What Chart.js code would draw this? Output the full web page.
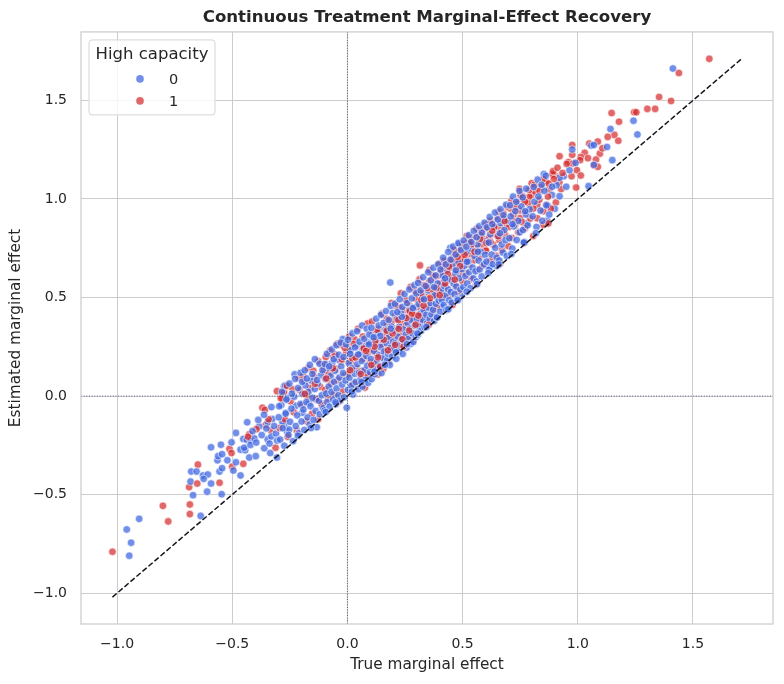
<!DOCTYPE html>
<html>
<head>
<meta charset="utf-8">
<script src="https://cdn.jsdelivr.net/npm/chart.js@4.4.1/dist/chart.umd.min.js"></script>
<style>
  html, body { margin: 0; padding: 0; background: #fff; }
  #wrap { width: 784px; height: 684px; }
</style>
</head>
<body>
<div id="wrap"><canvas id="myChart" width="784" height="684"></canvas></div>
<script>
// ---- data: [true effect, estimated effect] ----
const groupLabels = ['0', '1'];
const groupColors = ['rgba(65,105,225,0.75)', 'rgba(214,39,40,0.7)'];
const tickValues = [-1.0, -0.5, 0.0, 0.5, 1.0, 1.5];

// high capacity = 0, sparse tails / outliers
const cap0Sparse = [
  [-0.947,-0.81],[-0.939,-0.744],[-0.958,-0.677],[-0.904,-0.623],[-0.637,-0.608],[-0.67,-0.503],[-0.681,-0.434],
  [-0.609,-0.485],[-0.592,-0.444],[-0.546,-0.498],[-0.678,-0.383],[-0.655,-0.383],[-0.627,-0.403],[-0.606,-0.398],
  [-0.624,-0.42],[-0.555,-0.383],[-0.544,-0.366],[-0.495,-0.378],[-0.464,-0.403],[-0.564,-0.326],[-0.561,-0.305],
  [-0.544,-0.295],[-0.592,-0.26],[-0.549,-0.247],[-0.503,-0.235],[-0.521,-0.326],[-0.484,-0.336],[-0.484,-0.187],
  [-0.435,-0.133],[-0.452,-0.218],[-0.437,-0.222],[-0.42,-0.225],[-0.404,-0.215],[-0.464,-0.272],[-0.444,-0.275],
  [-0.426,-0.312],[-0.398,-0.305],[-0.335,-0.289],[-0.306,-0.312],[-0.383,-0.154],[-0.346,-0.22],[-0.33,-0.205],
  [-0.31,-0.19],[-0.003,-0.059],[-0.33,-0.056],[-0.275,0.049],[0.186,0.576],[-0.263,-0.177],[-0.273,-0.144],
  [-0.326,-0.117],[-0.346,-0.133],[-0.282,-0.133],[-0.253,-0.17],[-0.268,-0.085],[-0.225,-0.05],[-0.196,-0.085],
  [-0.167,-0.035],[-0.138,-0.017],[-0.11,-0.05],
  [1.413,1.662],[1.242,1.397],[1.259,1.327],[1.142,1.355],[1.15,1.197],[1.127,1.264],[1.059,1.271],[1.07,1.274],
  [0.976,1.251],[0.99,1.183],[1.07,1.173],[0.964,1.146],[0.939,1.115],[0.921,1.108],[0.95,1.062],[1.047,1.065],
  [0.921,1.014],[0.853,1.126],[0.908,1.07],[0.87,0.965],[0.888,1.02],[0.868,0.89],[0.9,0.95],[0.781,0.876],
  [0.649,0.66],[0.618,0.653],[0.446,0.751],[0.485,0.771],[0.495,0.508],[0.409,0.454],[0.026,0.066],[-0.02,0.289],
  [-0.229,0.11],[-0.27,0.053]
];

// high capacity = 0, dense band (lower and middle part)
const cap0Dense = [
  [-0.448,-0.262],[-0.421,-0.248],[-0.412,-0.178],[-0.396,-0.236],[-0.387,-0.121],[-0.372,-0.198],[-0.361,-0.265],
  [-0.352,-0.164],[-0.338,-0.241],[-0.318,-0.152],[-0.305,-0.226],[-0.362,-0.095],
  [-0.298,-0.108],[-0.292,-0.221],[-0.287,-0.046],[-0.281,-0.163],[-0.274,-0.252],[-0.268,-0.089],[-0.262,-0.012],
  [-0.256,-0.197],[-0.249,-0.131],[-0.243,-0.064],[-0.236,-0.229],[-0.231,-0.003],[-0.224,-0.152],[-0.218,-0.098],
  [-0.211,-0.189],[-0.204,-0.041],
  [-0.199,-0.129],[-0.195,0.012],[-0.191,-0.068],[-0.187,-0.172],[-0.182,0.054],[-0.178,-0.031],[-0.173,-0.108],
  [-0.169,0.021],[-0.164,-0.145],[-0.16,-0.052],[-0.156,0.078],[-0.151,-0.009],[-0.147,-0.121],[-0.142,0.036],
  [-0.138,-0.076],[-0.133,-0.158],[-0.129,0.062],[-0.124,-0.024],[-0.12,-0.092],[-0.115,0.105],[-0.111,0.004],
  [-0.104,-0.061],
  [-0.099,-0.073],[-0.096,0.086],[-0.092,0.013],[-0.088,-0.031],[-0.085,0.142],[-0.081,0.048],[-0.077,-0.054],
  [-0.073,0.101],[-0.069,0.021],[-0.066,0.168],[-0.062,-0.018],[-0.058,0.072],[-0.054,0.128],[-0.05,-0.041],
  [-0.047,0.039],[-0.043,0.186],[-0.039,0.004],[-0.035,0.094],[-0.031,-0.022],[-0.027,0.151],[-0.023,0.058],
  [-0.019,0.117],[-0.014,-0.006],[-0.008,0.079],
  [0.002,0.031],[0.006,0.168],[0.009,0.094],[0.013,0.232],[0.017,0.052],[0.021,0.141],[0.024,0.008],[0.028,0.199],
  [0.032,0.113],[0.036,0.071],[0.039,0.257],[0.043,0.162],[0.047,0.035],[0.051,0.118],[0.055,0.214],[0.058,0.087],
  [0.062,0.178],[0.066,0.048],[0.07,0.246],[0.074,0.131],[0.078,0.082],[0.082,0.203],[0.086,0.154],[0.09,0.067],
  [0.094,0.271],[0.098,0.121],
  [0.102,0.188],[0.105,0.086],[0.109,0.301],[0.112,0.142],[0.116,0.228],[0.119,0.111],[0.123,0.264],[0.127,0.171],
  [0.13,0.138],[0.134,0.321],[0.137,0.206],[0.141,0.152],[0.144,0.249],[0.148,0.117],[0.152,0.286],[0.155,0.192],
  [0.159,0.226],[0.162,0.161],[0.166,0.337],[0.17,0.268],[0.173,0.183],[0.177,0.214],[0.18,0.299],[0.184,0.158],
  [0.188,0.246],[0.191,0.353],[0.195,0.201],[0.198,0.276],
  [0.201,0.236],[0.205,0.331],[0.208,0.268],[0.212,0.189],[0.215,0.391],[0.219,0.301],[0.222,0.226],[0.226,0.352],
  [0.229,0.261],[0.233,0.419],[0.236,0.288],[0.24,0.214],[0.243,0.338],[0.247,0.271],[0.25,0.401],[0.254,0.312],
  [0.257,0.246],[0.261,0.371],[0.264,0.289],[0.268,0.436],[0.271,0.342],[0.275,0.265],[0.279,0.386],[0.282,0.318],
  [0.286,0.274],[0.289,0.448],[0.293,0.357],[0.297,0.299],
  [0.302,0.391],[0.306,0.311],[0.309,0.466],[0.313,0.352],[0.317,0.418],[0.32,0.331],[0.324,0.508],[0.328,0.386],
  [0.331,0.437],[0.335,0.349],[0.339,0.489],[0.342,0.412],[0.346,0.369],[0.35,0.536],[0.354,0.448],[0.357,0.391],
  [0.361,0.472],[0.365,0.414],[0.369,0.559],[0.372,0.438],[0.376,0.381],[0.38,0.511],[0.384,0.468],[0.388,0.402],
  [0.392,0.571],[0.397,0.484],
  [0.402,0.428],[0.406,0.536],[0.41,0.488],[0.414,0.612],[0.418,0.462],[0.421,0.558],[0.425,0.511],[0.429,0.437],
  [0.433,0.639],[0.437,0.542],[0.441,0.486],[0.445,0.592],[0.449,0.528],[0.453,0.474],[0.457,0.668],[0.461,0.571],
  [0.465,0.517],[0.469,0.621],[0.473,0.556],[0.477,0.492],[0.481,0.682],[0.486,0.598],[0.491,0.541],[0.496,0.644],
  [0.503,0.553],[0.507,0.661],[0.512,0.609],[0.516,0.728],[0.52,0.571],[0.525,0.682],[0.529,0.628],[0.534,0.547],
  [0.538,0.747],[0.543,0.652],[0.547,0.598],[0.552,0.711],[0.556,0.633],[0.561,0.581],[0.565,0.769],[0.57,0.688],
  [0.574,0.642],[0.579,0.731],[0.583,0.607],[0.588,0.792],[0.593,0.668],[0.598,0.717],
  [0.604,0.682],[0.609,0.778],[0.615,0.641],[0.62,0.821],[0.626,0.718],[0.631,0.669],[0.637,0.856],[0.642,0.752],
  [0.648,0.702],[0.653,0.811],[0.659,0.688],[0.664,0.878],[0.67,0.769],[0.675,0.728],[0.681,0.842],[0.686,0.791],
  [0.692,0.711],[0.697,0.889],
  [0.703,0.801],[0.709,0.912],[0.716,0.748],[0.722,0.861],[0.729,0.938],[0.735,0.792],[0.742,0.889],[0.748,0.831],
  [0.755,0.962],[0.762,0.842],[0.768,0.781],[0.775,0.921],[0.782,0.866],[0.791,0.948],
  [0.804,0.912],[0.812,0.986],[0.821,0.858],[0.829,1.012],[0.838,0.941],[0.846,0.889],[0.855,1.041],[0.864,0.968],
  [0.876,0.921],[0.889,1.062],
  [-0.215,-0.201],[-0.158,-0.162],[-0.094,-0.081],[-0.052,-0.032],[0.019,0.022],[0.061,0.071],[0.118,0.124],
  [0.163,0.158],[0.211,0.222],[0.258,0.263],[0.304,0.318],[0.343,0.351],[0.389,0.398],[0.438,0.441],[0.479,0.486],
  [0.518,0.529],[0.563,0.568],[0.611,0.624],[0.657,0.668],[0.712,0.721],[0.766,0.779],[0.818,0.826],
  [0.047,0.211],[0.093,0.262],[0.142,0.305],[0.188,0.342],[0.236,0.402],[0.284,0.446],[0.332,0.491],[0.377,0.552],
  [0.424,0.597],[0.471,0.638],[0.519,0.681],[0.566,0.732],[0.614,0.779],[0.662,0.826],[0.717,0.872],[0.772,0.938]
];

// high capacity = 0, upper part of the band
const cap0Upper = [
  [-0.296,-0.052],[-0.284,0.021],[-0.265,-0.018],[-0.252,0.063],[-0.241,0.012],[-0.227,0.087],[-0.214,0.041],
  [-0.203,0.118],
  [-0.196,0.072],[-0.185,0.131],[-0.176,0.089],[-0.163,0.158],[-0.152,0.112],[-0.141,0.187],[-0.132,0.081],
  [-0.121,0.164],[-0.108,0.131],
  [-0.098,0.162],[-0.089,0.214],[-0.079,0.151],[-0.068,0.236],[-0.059,0.187],[-0.048,0.258],[-0.038,0.209],
  [-0.029,0.271],[-0.017,0.198],[-0.006,0.262],
  [0.003,0.286],[0.012,0.214],[0.022,0.318],[0.033,0.247],[0.042,0.329],[0.053,0.276],[0.064,0.358],[0.073,0.291],
  [0.084,0.341],[0.095,0.312],
  [0.104,0.346],[0.114,0.298],[0.125,0.392],[0.136,0.358],[0.146,0.412],[0.157,0.371],[0.168,0.431],[0.179,0.386],
  [0.189,0.458],[0.197,0.421],
  [0.206,0.468],[0.217,0.426],[0.227,0.491],[0.238,0.452],[0.248,0.518],[0.259,0.472],[0.269,0.541],[0.28,0.496],
  [0.291,0.562],[0.299,0.521],
  [0.307,0.574],[0.318,0.536],[0.329,0.603],[0.34,0.558],[0.351,0.628],[0.362,0.587],[0.373,0.651],[0.383,0.612],
  [0.394,0.668],
  [0.404,0.642],[0.416,0.702],[0.427,0.668],[0.438,0.731],[0.448,0.692],[0.459,0.758],[0.47,0.718],[0.482,0.776],
  [0.493,0.741],
  [0.505,0.789],[0.516,0.758],[0.527,0.816],[0.538,0.782],[0.549,0.838],[0.561,0.806],[0.572,0.861],[0.584,0.829],
  [0.595,0.879],
  [0.606,0.856],[0.618,0.908],[0.629,0.872],[0.641,0.931],[0.653,0.896],[0.665,0.948],[0.677,0.918],[0.689,0.971],
  [0.706,0.968],[0.719,1.012],[0.733,0.986],[0.747,1.041],[0.761,1.008],[0.776,1.052],
  [0.809,1.061],[0.826,1.098],[0.843,1.072],[0.861,1.118]
];

// high capacity = 1, sparse tails / outliers
const cap1Sparse = [
  [-1.02,-0.79],[-0.778,-0.636],[-0.801,-0.557],[-0.684,-0.599],[-0.684,-0.55],[-0.687,-0.462],[-0.652,-0.444],
  [-0.555,-0.44],[-0.649,-0.348],[-0.5,-0.358],[-0.452,-0.344],[-0.512,-0.268],[-0.503,-0.289],[-0.426,-0.194],
  [-0.355,-0.147],[-0.332,-0.174],[-0.306,0.025],[-0.369,-0.059],[-0.358,-0.07],[-0.275,0.02],[0.315,0.663],
  [-0.044,0.265],[-0.277,0.019],[0.2,0.234],[0.086,0.106],[0.37,0.434],
  [1.571,1.711],[1.439,1.639],[1.353,1.517],[1.405,1.497],[1.302,1.457],[1.336,1.457],[1.245,1.44],[1.254,1.44],
  [1.147,1.436],[1.179,1.392],[1.159,1.325],[1.13,1.315],[1.176,1.295],[1.096,1.23],[1.087,1.291],[1.05,1.281],
  [1.03,1.234],[1.044,1.207],[1.079,1.2],[1.07,1.17],[1.087,1.163],[1.107,1.257],[1.013,1.213],[0.976,1.274],
  [0.976,1.224],[0.959,1.187],[0.979,1.18],[1.01,1.197],[0.996,1.146],[0.973,1.115],[1.013,1.119],[0.993,1.058],
  [0.921,1.217],[0.747,1.051],[0.761,1.014],[0.8,1.08],[0.8,1.02],[0.79,1.01],[0.876,1.048],[0.9,1.12],
  [0.89,1.125],[0.92,1.085],[0.928,1.05],[0.905,0.982],[0.864,0.97],[0.824,0.97],[0.807,0.812],[0.85,0.869],
  [0.75,0.903]
];

// high capacity = 1, dense band (lower and middle part)
const cap1Dense = [
  [-0.431,-0.206],[-0.395,-0.168],[-0.342,-0.118],[-0.312,-0.262],
  [-0.295,-0.162],[-0.283,-0.012],[-0.271,-0.118],[-0.259,-0.207],[-0.247,-0.026],[-0.233,-0.082],[-0.219,-0.176],
  [-0.207,0.031],
  [-0.197,-0.046],[-0.188,0.074],[-0.179,-0.128],[-0.171,-0.004],[-0.162,0.041],[-0.153,-0.089],[-0.144,0.097],
  [-0.136,-0.015],[-0.127,-0.118],[-0.119,0.048],[-0.11,-0.041],[-0.102,0.121],
  [-0.097,0.032],[-0.091,0.161],[-0.084,-0.012],[-0.078,0.115],[-0.071,0.064],[-0.064,0.203],[-0.057,0.009],
  [-0.049,0.138],[-0.042,0.081],[-0.036,-0.028],[-0.028,0.176],[-0.021,0.025],[-0.013,0.104],[-0.005,0.221],
  [0.004,0.112],[0.011,0.238],[0.018,0.174],[0.025,0.061],[0.031,0.288],[0.038,0.142],[0.044,0.206],[0.051,0.072],
  [0.057,0.251],[0.063,0.128],[0.069,0.189],[0.076,0.043],[0.082,0.262],[0.088,0.108],[0.093,0.223],[0.099,0.171],
  [0.103,0.236],[0.108,0.312],[0.114,0.169],[0.12,0.284],[0.126,0.217],[0.132,0.109],[0.138,0.342],[0.144,0.198],
  [0.15,0.261],[0.156,0.139],[0.161,0.308],[0.167,0.231],[0.172,0.366],[0.178,0.171],[0.184,0.289],[0.189,0.247],
  [0.194,0.381],[0.199,0.222],
  [0.203,0.288],[0.209,0.408],[0.214,0.241],[0.22,0.346],[0.226,0.447],[0.231,0.309],[0.237,0.372],[0.243,0.253],
  [0.249,0.434],[0.254,0.358],[0.26,0.296],[0.265,0.469],[0.271,0.388],[0.276,0.321],[0.282,0.452],[0.287,0.284],
  [0.293,0.411],[0.298,0.493],
  [0.304,0.452],[0.31,0.528],[0.316,0.378],[0.322,0.481],[0.327,0.411],[0.333,0.562],[0.339,0.446],[0.344,0.502],
  [0.35,0.387],[0.356,0.583],[0.361,0.469],[0.367,0.524],[0.373,0.421],[0.378,0.598],[0.384,0.506],[0.389,0.452],
  [0.395,0.612],[0.399,0.541],
  [0.403,0.571],[0.409,0.633],[0.415,0.502],[0.421,0.609],[0.427,0.552],[0.433,0.681],[0.439,0.589],[0.445,0.511],
  [0.451,0.652],[0.457,0.603],[0.463,0.718],[0.469,0.561],[0.475,0.677],[0.481,0.532],[0.487,0.738],[0.492,0.624],
  [0.497,0.691],[0.5,0.582],
  [0.504,0.692],[0.51,0.741],[0.515,0.622],[0.521,0.778],[0.527,0.668],[0.533,0.721],[0.539,0.593],[0.545,0.804],
  [0.551,0.689],[0.557,0.752],[0.563,0.641],[0.569,0.823],[0.575,0.708],[0.581,0.769],[0.587,0.661],[0.592,0.848],
  [0.597,0.738],[0.6,0.792],
  [0.602,0.738],[0.608,0.852],[0.614,0.801],[0.621,0.689],[0.627,0.876],[0.633,0.768],[0.64,0.821],[0.646,0.711],
  [0.652,0.902],[0.659,0.792],[0.665,0.851],[0.671,0.742],[0.678,0.926],[0.684,0.818],[0.691,0.872],[0.698,0.761],
  [0.701,0.858],[0.707,0.952],[0.714,0.802],[0.721,0.921],[0.728,0.868],[0.735,0.981],[0.742,0.831],[0.749,0.942],
  [0.757,0.884],[0.764,0.996],[0.771,0.852],[0.779,0.931],[0.786,0.978],[0.794,0.901],
  [0.807,0.951],[0.815,1.038],[0.824,0.902],[0.833,0.996],[0.842,1.061],[0.851,0.938],[0.86,1.089],[0.871,1.012],
  [0.883,0.951],[0.896,1.101],
  [0.021,0.192],[0.071,0.241],[0.121,0.279],[0.171,0.331],[0.221,0.386],[0.271,0.431],[0.321,0.488],[0.371,0.541],
  [0.421,0.589],[0.471,0.633],[0.521,0.688],[0.571,0.736],[0.621,0.781],[0.671,0.832],[0.721,0.889],[0.771,0.931],
  [0.142,0.148],[0.244,0.251],[0.352,0.361],[0.456,0.462],[0.558,0.565],[0.662,0.671],[0.768,0.776],[0.872,0.876]
];

// high capacity = 1, upper part of the band
const cap1Upper = [
  [-0.289,-0.011],[-0.262,0.052],[-0.238,0.034],[-0.212,0.091],
  [-0.192,0.104],[-0.171,0.141],[-0.148,0.128],[-0.126,0.176],[-0.105,0.152],
  [-0.094,0.198],[-0.076,0.229],[-0.053,0.211],[-0.033,0.262],[-0.012,0.245],
  [0.008,0.302],[0.027,0.264],[0.046,0.341],[0.067,0.302],[0.087,0.368],
  [0.107,0.378],[0.128,0.336],[0.149,0.418],[0.171,0.392],[0.192,0.472],
  [0.211,0.458],[0.232,0.521],[0.253,0.487],[0.274,0.553],[0.295,0.532],
  [0.313,0.592],[0.334,0.561],[0.356,0.639],[0.377,0.606],[0.398,0.671],
  [0.419,0.686],[0.441,0.657],[0.462,0.741],[0.484,0.712],[0.498,0.772],
  [0.518,0.812],[0.539,0.771],[0.561,0.849],[0.582,0.816],[0.599,0.868],
  [0.619,0.889],[0.638,0.858],[0.657,0.936],[0.676,0.901],[0.694,0.962],
  [0.712,0.991],[0.731,0.956],[0.752,1.018],[0.771,0.986],[0.789,1.046],
  [0.812,1.072],[0.834,1.041],[0.852,1.101],[0.874,1.078],[0.893,1.141],
  [0.912,1.158],[0.934,1.132],[0.952,1.178]
];

// high capacity = 1, more of the mid band
const cap1Mid = [
  [0.012,0.131],[0.035,0.196],[0.058,0.112],[0.081,0.229],[0.104,0.158],[0.118,0.251],[0.133,0.196],[0.158,0.286],
  [0.176,0.232],[0.196,0.318],[0.207,0.259],[0.223,0.341],[0.239,0.288],[0.256,0.396],[0.268,0.332],[0.281,0.418],
  [0.296,0.362],[0.308,0.408],[0.319,0.521],[0.331,0.459],[0.347,0.548],[0.358,0.496],[0.371,0.611],[0.386,0.548],
  [0.401,0.512],[0.412,0.658],[0.424,0.571],[0.436,0.619],[0.454,0.692],[0.466,0.591],[0.478,0.706],[0.489,0.659],
  [0.509,0.716],[0.531,0.779],[0.552,0.732],[0.576,0.798],[0.603,0.776],[0.628,0.839],[0.655,0.811],[0.682,0.888],
  [-0.185,0.011],[-0.141,0.062],[-0.092,0.089],[-0.063,0.141],[-0.024,0.186]
];

const FONT = '"DejaVu Sans", sans-serif';
const TEXT = '#262626';

// interleave both groups so neither colour sits on top of the other everywhere
const groups = [
    cap0Sparse.concat(cap0Dense, cap0Upper),
    cap1Sparse.concat(cap1Dense, cap1Upper, cap1Mid)
];
const points = [];
const n = Math.max(groups[0].length, groups[1].length);
for (let i = 0; i < n; i++) {
    groups.forEach((g, gi) => {
        if (g[i]) points.push({ x: g[i][0], y: g[i][1], g: gi });
    });
}

// identity line over the joint range, axes padded 5% like matplotlib
const allVals = points.flatMap(p => [p.x, p.y]);
const lo = Math.min(...allVals);
const hi = Math.max(...allVals);
const pad = (hi - lo) * 0.05;
const diag = [{ x: lo, y: lo }, { x: hi, y: hi }];

const fmt = v => (v < 0 ? '\u2212' : '') + Math.abs(v).toFixed(1);

const refLines = {
    id: 'refLines',
    afterDatasetsDraw(chart) {
        const { ctx, chartArea: a, scales } = chart;
        const x0 = scales.x.getPixelForValue(0);
        const y0 = scales.y.getPixelForValue(0);
        ctx.save();
        ctx.strokeStyle = 'rgba(60,68,100,0.85)';
        ctx.lineWidth = 1;
        ctx.setLineDash([1, 1.65]);
        ctx.beginPath();
        ctx.moveTo(x0, a.top); ctx.lineTo(x0, a.bottom);
        ctx.moveTo(a.left, y0); ctx.lineTo(a.right, y0);
        ctx.stroke();
        ctx.restore();
    }
};

const frameAndLegend = {
    id: 'frameAndLegend',
    afterDraw(chart) {
        const { ctx, chartArea: a } = chart;
        ctx.save();
        ctx.strokeStyle = '#cccccc';
        ctx.lineWidth = 1.25;
        ctx.strokeRect(a.left, a.top, a.right - a.left, a.bottom - a.top);

        // legend box
        const bx = a.left + 8, by = a.top + 8, bw = 126, bh = 75;
        ctx.beginPath();
        ctx.roundRect(bx, by, bw, bh, 3);
        ctx.fillStyle = 'rgba(255,255,255,0.8)';
        ctx.fill();
        ctx.strokeStyle = '#d5d5d5';
        ctx.lineWidth = 1;
        ctx.stroke();

        ctx.fillStyle = TEXT;
        ctx.textBaseline = 'middle';
        ctx.textAlign = 'center';
        ctx.font = '16.5px ' + FONT;
        ctx.fillText('High capacity', bx + bw / 2, by + 15);

        ctx.font = '14.5px ' + FONT;
        ctx.textAlign = 'left';
        groupLabels.forEach((lab, i) => {
            const cy = by + 39 + i * 22;
            ctx.beginPath();
            ctx.arc(bx + 51, cy, 3.8, 0, Math.PI * 2);
            ctx.fillStyle = groupColors[i];
            ctx.fill();
            ctx.fillStyle = TEXT;
            ctx.fillText(lab, bx + 80, cy + 1);
        });
        ctx.restore();
    }
};

const axisCommon = {
    type: 'linear',
    min: lo - pad,
    max: hi + pad,
    afterBuildTicks: s => { s.ticks = tickValues.map(v => ({ value: v })); },
    grid: { color: '#cccccc', lineWidth: 1, drawTicks: false },
    border: { display: false }
};

new Chart(document.getElementById('myChart').getContext('2d'), {
    type: 'scatter',
    data: {
        datasets: [
            {
                type: 'line',
                data: diag,
                borderColor: '#15151f',
                borderWidth: 1.5,
                borderDash: [5.5, 2.4],
                pointRadius: 0,
                fill: false,
                order: 0
            },
            {
                data: points,
                pointRadius: 3.8,
                pointBackgroundColor: c => groupColors[c.raw ? c.raw.g : 0],
                pointBorderColor: '#ffffff',
                pointBorderWidth: 0.6,
                order: 1
            }
        ]
    },
    options: {
        responsive: false,
        animation: false,
        events: [],
        layout: { padding: { left: 0, right: 11, top: 0, bottom: 0 } },
        plugins: {
            legend: { display: false },
            tooltip: { enabled: false },
            title: {
                display: true,
                fullSize: false,
                text: 'Continuous Treatment Marginal-Effect Recovery',
                color: TEXT,
                font: { family: FONT, size: 16.6, weight: 'bold' },
                padding: { top: 8, bottom: 4 }
            }
        },
        scales: {
            x: {
                ...axisCommon,
                afterFit: s => { s.height = 60; },
                ticks: { callback: fmt, color: TEXT, font: { family: FONT, size: 14 }, padding: 12, maxRotation: 0 },
                title: { display: true, text: 'True marginal effect', color: TEXT, font: { family: FONT, size: 15.3 }, padding: { top: 0, bottom: 10 } }
            },
            y: {
                ...axisCommon,
                afterFit: s => { s.width = 81; },
                ticks: { callback: fmt, color: TEXT, font: { family: FONT, size: 14 }, padding: 14 },
                title: { display: true, text: 'Estimated marginal effect', color: TEXT, font: { family: FONT, size: 15.3 }, padding: { top: 7, bottom: 0 } }
            }
        }
    },
    plugins: [refLines, frameAndLegend]
});
</script>
</body>
</html>
